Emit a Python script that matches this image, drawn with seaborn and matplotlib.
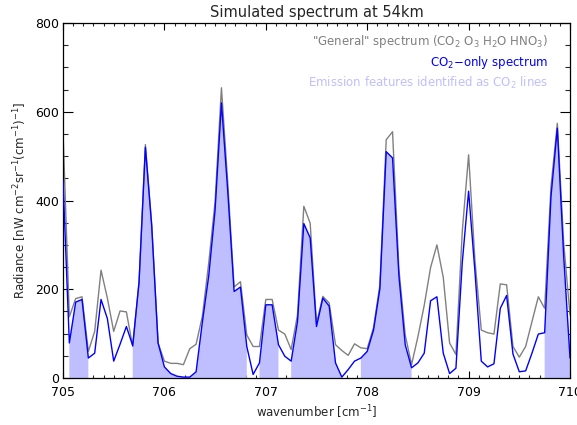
import numpy as np
import pandas as pd
import matplotlib
matplotlib.use("Agg")
import matplotlib.pyplot as plt
import seaborn as sns

# Spectral grid: 705-710 cm^-1 sampled every 0.0625 cm^-1
wn_start, wn_step = 705.0, 0.0625

# "General" spectrum (CO2 O3 H2O HNO3), nW cm-2 sr-1 (cm-1)-1
general = [555, 138, 179, 183, 60, 105, 243, 180, 105, 151,
           149, 71, 216, 526, 346, 79, 38, 33, 33, 30,
           66, 76, 140, 260, 398, 654, 440, 205, 217, 97,
           71, 71, 177, 177, 108, 99, 64, 142, 387, 349,
           123, 184, 169, 75, 62, 51, 77, 68, 66, 114,
           210, 537, 555, 246, 97, 30, 93, 164, 249, 300,
           227, 79, 53, 330, 503, 265, 108, 102, 99, 212,
           210, 71, 47, 71, 127, 183, 157, 431, 574, 305,
           142]

# CO2-only spectrum
co2_only = [446, 79, 171, 177, 45, 56, 177, 134, 38, 76,
            116, 73, 216, 520, 342, 79, 25, 10, 4, 2,
            2, 14, 127, 231, 379, 620, 420, 195, 205, 71,
            8, 34, 165, 165, 75, 49, 38, 127, 348, 316,
            116, 180, 162, 34, 2, 19, 38, 45, 60, 108,
            201, 510, 496, 231, 75, 23, 34, 56, 174, 183,
            56, 10, 22, 260, 421, 240, 38, 25, 32, 157,
            186, 54, 14, 16, 56, 99, 102, 409, 563, 275,
            45]

# Wavenumber intervals flagged as CO2 emission lines
co2_bands = [(705.0625, 705.25), (705.6875, 706.8125), (706.9375, 707.125),
             (707.25, 707.75), (707.9375, 708.4375), (709.75, 710.0)]

title = "Simulated spectrum at 54km"
legend_lines = ['"General" spectrum (CO$_2$ O$_3$ H$_2$O HNO$_3$)',
                'CO$_2$$-$only spectrum',
                'Emission features identified as CO$_2$ lines']
x_ticks = [705, 706, 707, 708, 709, 710]
y_ticks = [0, 200, 400, 600, 800]

wavenumber = wn_start + wn_step * np.arange(len(co2_only))
df = pd.DataFrame({"wavenumber": wavenumber, "general": general, "co2": co2_only})

sns.set_style("ticks")
plt.rcParams["font.family"] = ["DejaVu Sans"]
plt.rcParams["mathtext.fontset"] = "dejavusans"

fig = plt.figure(figsize=(5.77, 4.25), dpi=100)
ax = fig.add_axes([63 / 577, 1 - 378 / 425, 507 / 577, 355 / 425])

fill_color = "#bfbfff"
in_band = np.zeros(len(df), dtype=bool)
for lo, hi in co2_bands:
    in_band |= (df["wavenumber"] >= lo - 1e-9) & (df["wavenumber"] <= hi + 1e-9)
ax.fill_between(df["wavenumber"], 0, df["co2"], where=in_band,
                color=fill_color, linewidth=0, zorder=1)

sns.lineplot(data=df, x="wavenumber", y="general", color="#808080",
             linewidth=1.0, ax=ax, zorder=2)
sns.lineplot(data=df, x="wavenumber", y="co2", color="#0000ff",
             linewidth=1.0, ax=ax, zorder=3)

ax.set_xlim(705, 710)
ax.set_ylim(0, 800)
ax.set_xticks(x_ticks)
ax.set_xticklabels([str(t) for t in x_ticks])
ax.set_yticks(y_ticks)
ax.set_yticklabels([str(t) for t in y_ticks])
ax.set_xticks(np.arange(705, 710.001, 0.1), minor=True)
ax.set_yticks(np.arange(0, 800.1, 50), minor=True)

ax.tick_params(axis="x", which="major", direction="in", length=5.0, width=0.8,
               top=True, bottom=True, labelsize=9, pad=6, colors="black")
ax.tick_params(axis="x", which="minor", direction="in", length=2.5, width=0.8,
               top=True, bottom=True)
ax.tick_params(axis="y", which="major", direction="in", length=7.2, width=0.8,
               left=True, right=True, labelsize=9, pad=3, colors="black")
ax.tick_params(axis="y", which="minor", direction="in", length=3.6, width=0.8,
               left=True, right=True)
for s in ax.spines.values():
    s.set_linewidth(0.9)
    s.set_color("black")
    s.set_visible(True)

ax.set_xlabel("wavenumber [cm$^{-1}$]", fontsize=8.5, labelpad=3)
ax.set_ylabel("Radiance [nW cm$^{-2}$sr$^{-1}$(cm$^{-1}$)$^{-1}$]", fontsize=8.5, labelpad=4)
ax.set_title(title, fontsize=10.5, pad=4)

legend_colors = ["#808080", "#0000ff", fill_color]
legend_y = [0.949, 0.890, 0.831]
for txt, col, yy in zip(legend_lines, legend_colors, legend_y):
    ax.text(0.957, yy, txt, color=col, fontsize=8.5, ha="right", va="center",
            transform=ax.transAxes)

fig.savefig("out.png", dpi=100)
